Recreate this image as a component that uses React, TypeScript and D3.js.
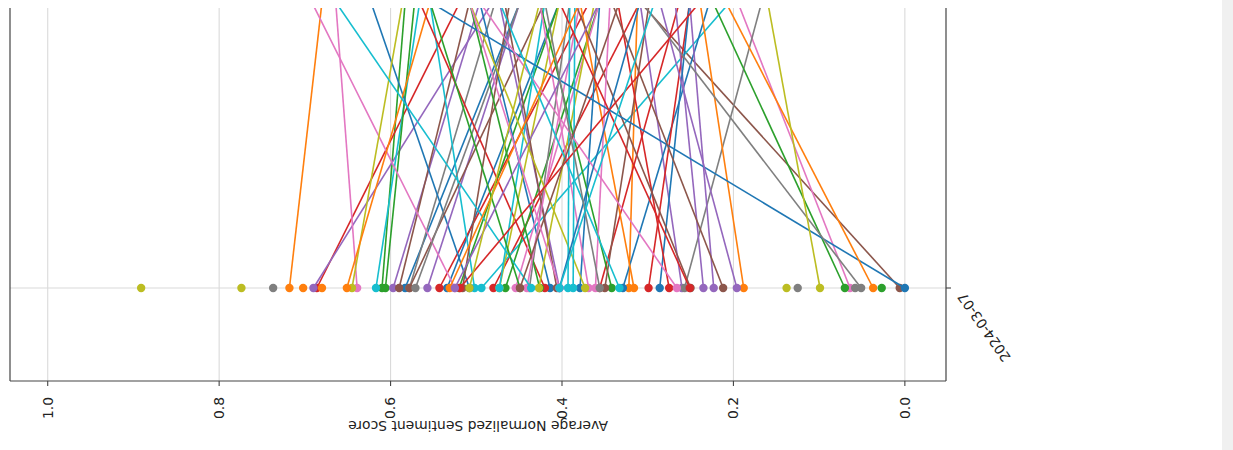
import React from "react";
import * as d3 from "d3";

// Dates on the (rotated) date axis; only the first is inside the visible crop
const dates = ["2024-03-07", "2024-03-08"];

// Score of each series on 2024-03-07 (series order follows the tab10 colour cycle)
const startScores = [
  0.583, 0.718, 0.610, 0.686, 0.690, 0.006, 0.064, 0.737, 0.891, 0.617,
  0.534, 0.702, 0.606, 0.543, 0.597, 0.590, 0.639, 0.578, 0.774, 0.502,
  0.508, 0.680, 0.520, 0.480, 0.557, 0.578, 0.525, 0.571, 0.645, 0.494,
  0.414, 0.651, 0.466, 0.420, 0.403, 0.516, 0.454, 0.438, 0.473, 0.473,
  0.379, 0.322, 0.426, 0.356, 0.260, 0.406, 0.441, 0.257, 0.427, 0.436,
  0.329, 0.316, 0.342, 0.299, 0.235, 0.350, 0.369, 0.125, 0.373, 0.393,
  0.286, 0.188, 0.070, 0.275, 0.223, 0.250, 0.361, 0.058, 0.138, 0.387,
  0.000, 0.037, 0.027, 0.251, 0.196, 0.212, 0.266, 0.051, 0.099, 0.333,
  0.403, 0.531, 0.449, 0.519, 0.525, 0.449, 0.403, 0.356, 0.508, 0.403,
];

// Score of each series on the following date (null = no value)
const nextScores: (number | null)[] = [
  0.449, 0.680, 0.583, 0.519, 0.481, 0.309, 0.195, null, null, 0.566,
  0.403, null, 0.572, 0.368, 0.496, 0.508, 0.664, 0.478, null, 0.554,
  0.623, null, 0.403, 0.309, 0.449, 0.420, 0.692, 0.449, 0.586, 0.204,
  0.496, 0.554, 0.356, 0.566, 0.473, 0.461, 0.356, 0.391, 0.403, 0.420,
  0.356, 0.312, 0.508, 0.263, 0.309, 0.467, 0.379, 0.167, 0.362, 0.664,
  0.228, 0.379, 0.426, 0.251, 0.268, 0.298, 0.426, null, 0.508, 0.391,
  0.251, 0.239, 0.224, 0.335, 0.251, 0.385, 0.344, null, null, 0.385,
  0.554, 0.209, null, 0.403, 0.286, 0.342, 0.496, 0.307, 0.160, 0.473,
  0.309, 0.379, 0.554, 0.239, 0.356, 0.333, 0.508, 0.420, 0.426, 0.292,
];

const scoreTicks = [0, 0.2, 0.4, 0.6, 0.8, 1.0];
const scoreLabel = "Average Normalized Sentiment Score";

export default function App() {
  const W = 1233;
  const H = 450;
  const plot = { left: 10, right: 946, top: 8, bottom: 381 };
  const font = "'DejaVu Sans', sans-serif";
  const fs = 13.9;

  const parse = d3.timeParse("%Y-%m-%d");
  const dateVals = dates.map((d) => parse(d) as Date);

  const x = d3.scaleLinear().domain([-0.048, 1.044]).range([plot.right, plot.left]);
  const y = d3.scaleTime().domain([dateVals[0], dateVals[1]]).range([288, 2]);
  const colors = d3.schemeCategory10;
  const fmt = d3.format(".1f");

  type Pt = { d: Date; v: number };
  const line = d3
    .line<Pt>()
    .x((p) => x(p.v))
    .y((p) => y(p.d));

  const series = startScores.map((s, i) => {
    const pts: Pt[] = [{ d: dateVals[0], v: s }];
    const n = nextScores[i];
    if (n !== null && n !== undefined) pts.push({ d: dateVals[1], v: n });
    return { pts, color: colors[i % 10] };
  });

  const dateTickY = y(dateVals[0]);

  return (
    <svg
      width={W}
      height={H}
      style={{ position: "absolute", left: 0, top: 0, background: "#fff" }}
      fontFamily={font}
    >
      <defs>
        <clipPath id="plotclip">
          <rect x={plot.left} y={plot.top} width={plot.right - plot.left} height={plot.bottom - plot.top} />
        </clipPath>
      </defs>
      <rect x={0} y={0} width={W} height={H} fill="#ffffff" />
      <rect x={1222} y={0} width={W - 1222} height={H} fill="#f0f0f0" />

      {/* grid */}
      <g stroke="#dadada" strokeWidth={1.1}>
        {scoreTicks.map((t) => (
          <line key={t} x1={x(t)} x2={x(t)} y1={plot.top} y2={plot.bottom} />
        ))}
        <line x1={plot.left} x2={plot.right} y1={dateTickY} y2={dateTickY} />
      </g>

      {/* series */}
      <g clipPath="url(#plotclip)">
        {series.map((s, i) => (
          <g key={i}>
            {s.pts.length > 1 && (
              <path d={line(s.pts) || ""} fill="none" stroke={s.color} strokeWidth={1.6} />
            )}
            {s.pts.map((p, j) => (
              <circle key={j} cx={x(p.v)} cy={y(p.d)} r={4.2} fill={s.color} />
            ))}
          </g>
        ))}
      </g>

      {/* spines */}
      <g stroke="#444" strokeWidth={1.2} fill="none">
        <line x1={plot.left} x2={plot.left} y1={plot.top} y2={plot.bottom} />
        <line x1={plot.right} x2={plot.right} y1={plot.top} y2={plot.bottom} />
        <line x1={plot.left} x2={plot.right} y1={plot.bottom} y2={plot.bottom} />
      </g>

      {/* score ticks */}
      {scoreTicks.map((t) => (
        <g key={t}>
          <line x1={x(t)} x2={x(t)} y1={plot.bottom} y2={plot.bottom + 5} stroke="#444" strokeWidth={1.1} />
          <text
            transform={`translate(${x(t)},${plot.bottom + 16}) rotate(-90)`}
            textAnchor="end"
            dy="0.35em"
            fontSize={fs}
            fill="#222"
          >
            {fmt(t)}
          </text>
        </g>
      ))}

      {/* date tick */}
      <line x1={plot.right} x2={plot.right + 5} y1={dateTickY} y2={dateTickY} stroke="#444" strokeWidth={1.1} />
      <text
        transform={`translate(${plot.right + 15},${dateTickY + 6}) rotate(-125)`}
        textAnchor="end"
        dy="0.35em"
        fontSize={fs}
        fill="#222"
      >
        {dates[0]}
      </text>

      {/* axis label */}
      <text
        transform={`translate(${(plot.left + plot.right) / 2},${421}) rotate(180)`}
        textAnchor="middle"
        fontSize={fs}
        fill="#222"
      >
        {scoreLabel}
      </text>
    </svg>
  );
}
